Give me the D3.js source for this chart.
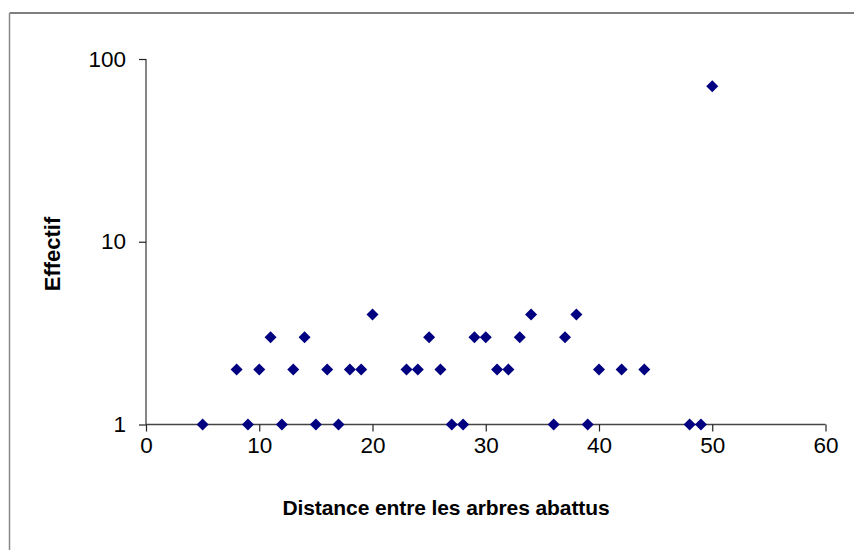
<!DOCTYPE html>
<html><head><meta charset="utf-8">
<script src="https://cdn.jsdelivr.net/npm/d3@7"></script>
<style>body{margin:0;background:#fff}svg{display:block}</style>
</head><body>
<svg id="c" width="854" height="550"></svg>
<script>
const distances = [5,8,9,10,11,12,13,14,15,16,17,18,19,20,23,24,25,26,27,28,29,30,31,32,33,34,36,37,38,39,40,42,44,48,49,50];
const effectifs = [1,2,1,2,3,1,2,3,1,2,1,2,2,4,2,2,3,2,1,1,3,3,2,2,3,4,1,3,4,1,2,2,2,1,1,71];
const xTicks = [0,10,20,30,40,50,60];
const yTicks = [1,10,100];
const xTitle = "Distance entre les arbres abattus";
const yTitle = "Effectif";

const svg = d3.select("#c");
const font = "Arial, 'Liberation Sans', sans-serif";

// outer frame
svg.append("line").attr("x1",9.5).attr("x2",854).attr("y1",13).attr("y2",13).attr("stroke","#000").attr("stroke-width",1.2);
svg.append("line").attr("x1",9.5).attr("x2",9.5).attr("y1",13).attr("y2",550).attr("stroke","#888").attr("stroke-width",1.5);

const x = d3.scaleLinear().domain([0,60]).range([146,825.5]);
const y = d3.scaleLog().domain([1,100]).range([424.5,59]);

const xAxis = svg.append("g").attr("transform","translate(0,424.5)")
  .call(d3.axisBottom(x).tickValues(xTicks).tickSize(7).tickPadding(6).tickFormat(d3.format("d")));
const yAxis = svg.append("g").attr("transform","translate(146,0)")
  .call(d3.axisLeft(y).tickValues(yTicks).tickSize(7).tickPadding(13).tickFormat(d3.format("d")));

[xAxis,yAxis].forEach(g=>{
  g.select(".domain").attr("stroke","#444").attr("stroke-width",1.3);
  g.selectAll(".tick line").attr("stroke","#222").attr("stroke-width",1.2);
  g.selectAll(".tick text").attr("fill","#000").style("font-family",font).style("font-size","22.5px");
});
yAxis.select(".domain").attr("d","M0,424.5V59");
xAxis.select(".domain").attr("d","M146,0H825.5");

svg.append("g").selectAll("path").data(distances).join("path")
  .attr("transform",(d,i)=>`translate(${x(d)},${y(effectifs[i])})`)
  .attr("d","M0,-6L6,0L0,6L-6,0Z")
  .attr("fill","#000080");

svg.append("text").attr("x",446).attr("y",515).attr("text-anchor","middle")
  .style("font-family",font).style("font-size","21px").style("font-weight","bold")
  .style("letter-spacing","-0.1px").text(xTitle);

svg.append("text").attr("transform","translate(60,254) rotate(-90)").attr("text-anchor","middle")
  .style("font-family",font).style("font-size","22px").style("font-weight","bold")
  .style("letter-spacing","0px").text(yTitle);
</script>
</body></html>
